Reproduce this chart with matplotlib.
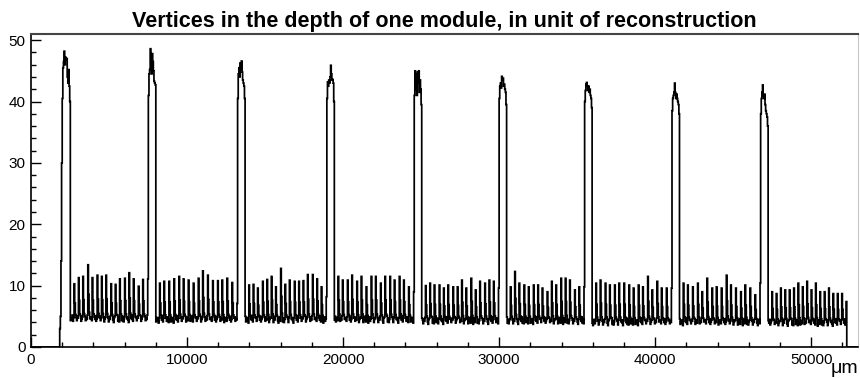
import numpy as np
import matplotlib
matplotlib.use('Agg')
import matplotlib.pyplot as plt
from matplotlib.ticker import MultipleLocator

plt.rcParams['font.family'] = ['Liberation Sans', 'DejaVu Sans']

# histogram binning (um)
BIN = 40.0
X_MAX = 53000
HIST_END = 52295

# first bins before the first module plateau
lead_in = [3.0, 5.0, 14.0, 30.0]

# module plateaus: centre position and bin contents across the top
peak_centers = [2255, 7764, 13480, 19206, 24810, 30250, 35733, 41351, 47033]
peak_tops = [
    [40.5, 45.5, 46.5, 48.2, 46.0, 47.2, 46.8, 47.0, 44.0, 43.0, 45.2, 42.5, 40.0],
    [41.0, 44.5, 45.2, 48.6, 46.0, 44.5, 47.8, 46.5, 45.0, 43.3, 43.0, 42.7],
    [40.5, 44.5, 45.5, 44.0, 46.3, 45.2, 46.6, 44.8, 43.5, 43.0, 42.5, 40.5],
    [40.5, 43.2, 42.5, 43.5, 43.0, 44.0, 45.9, 44.5, 43.5, 43.6, 43.0, 40.0],
    [41.0, 45.0, 42.0, 44.5, 41.0, 44.8, 43.0, 45.0, 41.5, 43.5, 42.0, 39.5],
    [40.5, 42.5, 43.0, 42.2, 44.1, 43.5, 43.8, 42.5, 42.8, 42.0, 41.5, 39.5],
    [40.0, 41.8, 42.8, 43.1, 42.5, 41.8, 42.5, 41.5, 42.0, 41.0, 40.5, 39.0],
    [38.5, 40.5, 41.0, 41.5, 43.0, 41.5, 40.5, 41.2, 40.5, 40.0, 39.5, 38.0],
    [38.0, 40.5, 41.5, 42.7, 41.0, 40.5, 41.2, 39.5, 38.5, 38.0, 37.5, 36.0],
]

# spike heights in each gap between modules
gap_spikes = [
    [10.3, 11.3, 11.5, 13.4, 11.3, 11.7, 11.5, 11.7, 10.3, 10.2, 11.1, 11.2, 12.1, 11.1, 9.9, 11.0, 11.1],
    [10.4, 10.7, 10.7, 11.1, 11.5, 11.1, 10.9, 10.4, 11.2, 12.4, 11.7, 10.8, 10.8, 10.9, 11.2, 10.5, 7.1],
    [10.1, 10.2, 9.6, 10.7, 11.0, 11.5, 9.8, 12.8, 10.2, 10.9, 10.7, 10.7, 10.8, 11.8, 11.8, 11.1, 9.8, 8.2],
    [11.5, 10.9, 10.9, 11.7, 10.7, 11.5, 9.8, 11.5, 11.5, 10.4, 11.5, 11.5, 10.9, 11.5, 10.9, 9.8, 9.0],
    [10.0, 10.4, 10.1, 10.1, 9.6, 10.1, 9.8, 9.8, 10.9, 9.6, 11.2, 9.3, 10.7, 10.4, 10.9, 10.7, 9.6],
    [9.8, 12.3, 10.4, 10.1, 9.8, 10.1, 10.1, 9.6, 9.0, 10.7, 10.1, 11.2, 11.2, 10.9, 9.3, 9.8, 9.8],
    [10.4, 10.9, 10.4, 10.1, 10.1, 10.4, 10.4, 10.1, 9.6, 10.1, 9.8, 11.5, 9.3, 10.7, 9.6, 9.6, 9.6],
    [10.4, 10.1, 9.8, 10.4, 9.0, 11.2, 9.6, 9.8, 9.6, 11.7, 10.1, 9.6, 9.0, 10.1, 9.6, 8.5, 10.4],
    [9.0, 8.7, 9.6, 9.3, 9.3, 9.6, 10.4, 9.8, 10.7, 9.3, 10.4, 9.0, 9.0, 9.6, 8.7, 8.7, 8.7, 7.4],
]
gap_base = [4.6, 4.5, 4.5, 4.5, 4.3, 4.3, 4.1, 4.1, 4.0]
# rough texture of the floor between spikes
base_wiggle = [0.2, -0.3, 0.4, 0.1, -0.5, 0.3, -0.1, 0.5, -0.4, 0.0, 0.3, -0.2,
               -0.6, 0.2, 0.4, -0.3, 0.1, -0.1, 0.6, -0.4, 0.2, -0.5, 0.0, 0.3]


def build_counts():
    edges = np.arange(0, X_MAX + BIN, BIN)
    counts = np.zeros(len(edges) - 1)
    lo, hi = [], []
    for c, top in zip(peak_centers, peak_tops):
        i0 = int(c // BIN) - len(top) // 2
        counts[i0:i0 + len(top)] = top
        lo.append(i0)
        hi.append(i0 + len(top))
    counts[lo[0] - len(lead_in):lo[0]] = lead_in
    end_bin = int(HIST_END // BIN)
    for k, (spikes, base) in enumerate(zip(gap_spikes, gap_base)):
        g0 = hi[k]
        g1 = lo[k + 1] if k + 1 < len(lo) else end_bin
        for j in range(g0, g1):
            counts[j] = base + base_wiggle[j % len(base_wiggle)]
        pos = np.linspace(edges[g0] + 250, edges[g1] - 40, len(spikes))
        for p, h in zip(pos, spikes):
            j = int(p // BIN)
            counts[j] = h
            if j + 1 < g1:
                counts[j + 1] = base + 0.45 * (h - base)
            if j + 2 < g1:
                counts[j + 2] = base + 0.12 * (h - base)
    return edges, counts


edges, counts = build_counts()

fig = plt.figure(figsize=(8.6, 3.78), dpi=100)
ax = fig.add_axes([31 / 860, 31 / 378, 827 / 860, 313 / 378])
ax.stairs(counts, edges, color='black', lw=1.25)

ax.set_xlim(0, X_MAX)
ax.set_ylim(0, 51)
ax.xaxis.set_major_locator(MultipleLocator(10000))
ax.xaxis.set_minor_locator(MultipleLocator(2000))
ax.yaxis.set_major_locator(MultipleLocator(10))
ax.yaxis.set_minor_locator(MultipleLocator(2))
ax.tick_params(which='both', direction='in', top=False, right=False,
               labelsize=11, width=1)
ax.tick_params(which='major', length=7)
ax.tick_params(which='minor', length=3.5)
ax.tick_params(axis='y', pad=4)
ax.tick_params(axis='x', pad=4)

ax.spines['top'].set_color('#444444')
ax.spines['top'].set_linewidth(1.5)
ax.spines['right'].set_color('#c8c8c8')
ax.spines['right'].set_linewidth(0.8)
ax.spines['left'].set_linewidth(1.2)
ax.spines['bottom'].set_linewidth(1.2)

ax.set_title('Vertices in the depth of one module, in unit of reconstruction',
             fontsize=15.5, fontweight='bold', pad=5)
fig.text(858 / 860, 1 / 378, 'μm', ha='right', va='bottom', fontsize=14)

fig.savefig('out.png', dpi=100)
